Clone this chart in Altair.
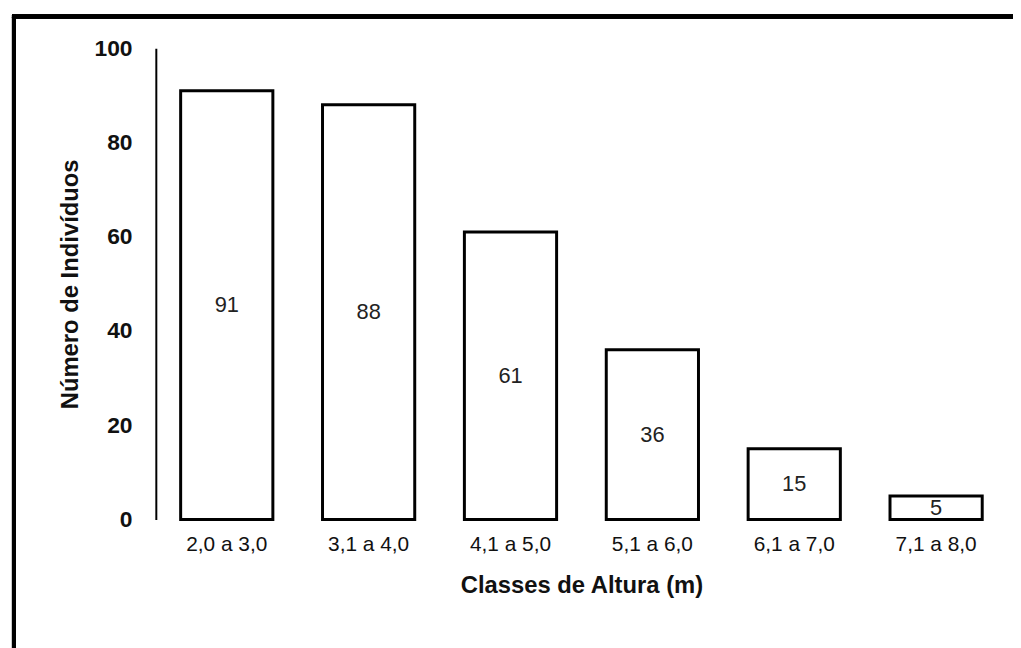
import altair as alt
import pandas as pd

classes = ["2,0 a 3,0", "3,1 a 4,0", "4,1 a 5,0", "5,1 a 6,0", "6,1 a 7,0", "7,1 a 8,0"]
valores = [91, 88, 61, 36, 15, 5]

df = pd.DataFrame({"classe": classes, "n": valores})
df["meio"] = df["n"] / 2

x = alt.X("classe:N", sort=classes,
          scale=alt.Scale(paddingInner=0.35, paddingOuter=0.175),
          axis=alt.Axis(title="Classes de Altura (m)", labelAngle=0, domain=False, ticks=False,
                        grid=False,
                        labelFont="Liberation Sans", labelFontSize=21, labelColor="#111",
                        labelPadding=14, titleFont="Liberation Sans", titleFontSize=24,
                        titleFontWeight="bold", titlePadding=20, titleColor="#111"))

bars = alt.Chart(df).mark_bar(fill="white", stroke="black", strokeWidth=3).encode(
    x=x,
    y=alt.Y("n:Q", scale=alt.Scale(domain=[0, 100]),
            axis=alt.Axis(title="Número de Indivíduos", values=[0, 20, 40, 60, 80, 100],
                          grid=False, ticks=False, domain=True, domainColor="black",
                          domainWidth=2, labelFont="Liberation Sans", labelFontSize=23,
                          labelFontWeight="bold", labelColor="#111", labelPadding=24,
                          titleFont="Liberation Sans", titleFontSize=24, titleFontWeight="bold",
                          titleColor="#111", titlePadding=12))
)

text = alt.Chart(df).mark_text(font="Liberation Sans", fontSize=22, color="#222").encode(
    x=alt.X("classe:N", sort=classes),
    y=alt.Y("meio:Q"),
    text=alt.Text("n:Q"),
)

frame_left = alt.Chart(df).mark_rule(color="black", strokeWidth=4).encode(
    x=alt.value(-143), y=alt.value(-32), y2=alt.value(620))
frame_top = alt.Chart(df).mark_rule(color="black", strokeWidth=4).encode(
    x=alt.value(-145), x2=alt.value(870), y=alt.value(-32))

chart = alt.layer(bars, text, frame_left, frame_top).properties(
    width=858, height=475,
    background="white",
    autosize=alt.AutoSizeParams(type="none"),
    padding={"left": 149, "top": 38, "right": 6, "bottom": 127},
).configure_view(strokeWidth=0, stroke="transparent")

chart.save("out.html", embed_options={"renderer": "svg", "actions": False})
